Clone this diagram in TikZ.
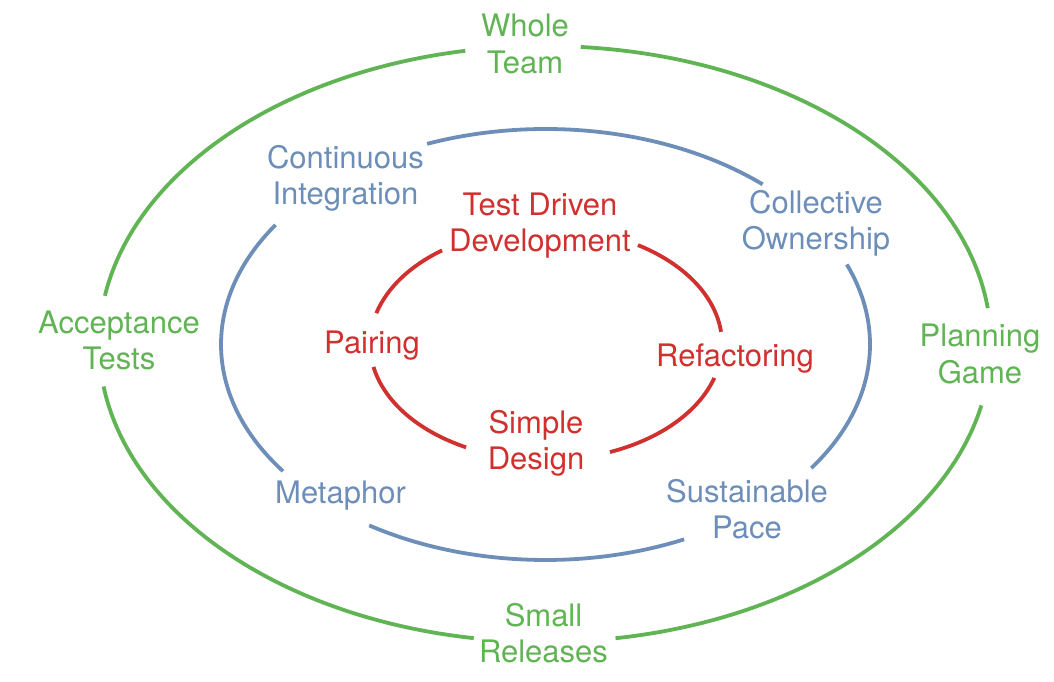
\documentclass[tikz,border=0pt]{standalone}
\usepackage{fontspec}
\setmainfont{TeX Gyre Heros}
\definecolor{xpgreen}{RGB}{96,180,84}
\definecolor{xpblue}{RGB}{108,142,184}
\definecolor{xpred}{RGB}{208,48,46}
\newcommand{\ellarc}[6]{%
  \draw[#1] ([shift={(#3:#4pt and #5pt)}]#2) arc[start angle=#3,end angle=#6,x radius=#4pt,y radius=#5pt];}
\tikzset{
  ring/.style={line width=3.8pt},
  lbl/.style={align=center,anchor=base,inner sep=0pt,font={\fontsize{31}{36.5}\selectfont}},
  outer/.style={lbl,text=xpgreen},
  middle/.style={lbl,text=xpblue},
  inner/.style={lbl,text=xpred}
}
\begin{document}
\begin{tikzpicture}[x=1pt,y=1pt]
\useasboundingbox (0,0) rectangle (1054,682);
\coordinate (G) at (545,338);
\coordinate (B) at (545.5,337.5);
\coordinate (R) at (546,338);
% outer ring
\ellarc{ring,xpgreen}{G}{6.9}{446}{298}{85.4}
\ellarc{ring,xpgreen}{G}{100.3}{446}{298}{170.7}
\ellarc{ring,xpgreen}{G}{188.2}{446}{298}{260.8}
\ellarc{ring,xpgreen}{G}{279.1}{446}{298}{348.1}
% middle ring
\ellarc{ring,xpblue}{B}{48}{324.5}{215.5}{111.4}
\ellarc{ring,xpblue}{B}{146.3}{324.5}{215.5}{216}
\ellarc{ring,xpblue}{B}{237.1}{324.5}{215.5}{295.3}
\ellarc{ring,xpblue}{B}{-35}{324.5}{215.5}{21.8}
% inner ring
\ellarc{ring,xpred}{R}{6}{176}{116}{58.5}
\ellarc{ring,xpred}{R}{126.2}{176}{116}{164.6}
\ellarc{ring,xpred}{R}{191.4}{176}{116}{243}
\ellarc{ring,xpred}{R}{-68.7}{176}{116}{-17}
% labels (base anchor = baseline of last line)
\node[outer] (whole) at (525,608.7) {Whole\\Team};
\node[outer] (accept) at (119,312) {Acceptance\\Tests};
\node[outer] (plan) at (980,298.7) {Planning\\Game};
\node[outer] (small) at (543.5,19.3) {Small\\Releases};
\node[middle] (contint) at (345.5,477) {Continuous\\Integration};
\node[middle] (collect) at (816,432) {Collective\\Ownership};
\node[middle] (metaphor) at (340.5,178.7) {Metaphor};
\node[middle] (sustain) at (747,143) {Sustainable\\Pace};
\node[inner] (tdd) at (540,430.3) {Test Driven\\Development};
\node[inner] (pairing) at (372,328.7) {Pairing};
\node[inner] (refact) at (735,315.3) {Refactoring};
\node[inner] (simple) at (536,212) {Simple\\Design};
\end{tikzpicture}
\end{document}
